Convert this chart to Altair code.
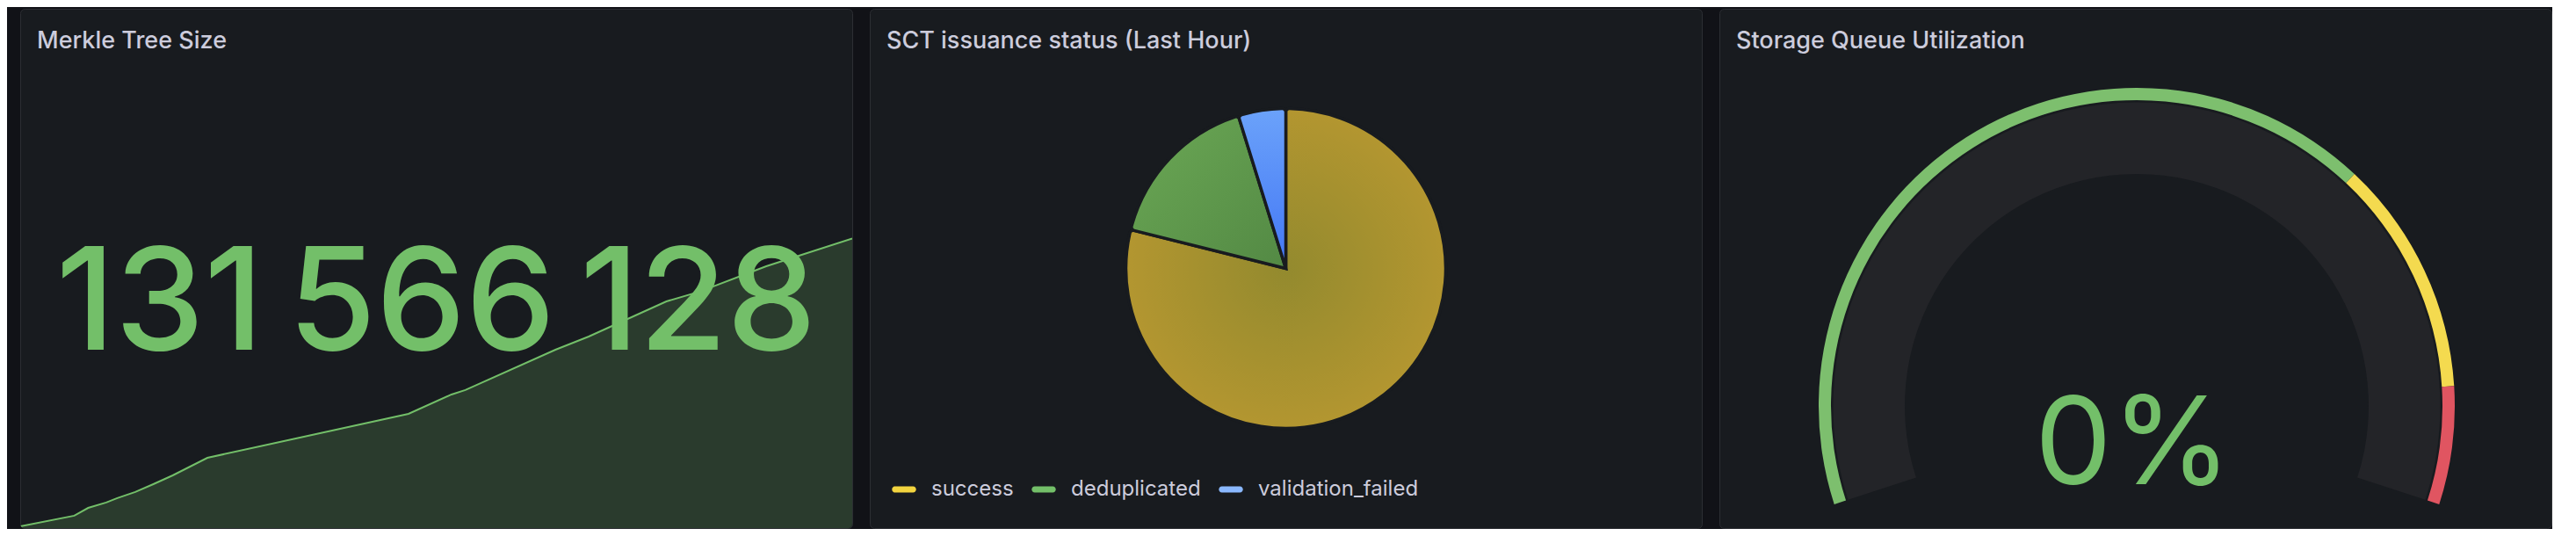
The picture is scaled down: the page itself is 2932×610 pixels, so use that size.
import math
import altair as alt
import pandas as pd

# ---------------- data ----------------
panel_titles = ["Merkle Tree Size", "SCT issuance status (Last Hour)", "Storage Queue Utilization"]

# Merkle tree size sparkline (minutes into the hour, size in millions)
spark_minutes = [0, 3.9, 4.9, 6.2, 7.0, 8.3, 9.6, 11.0, 13.5, 28.0, 31.1, 32.1, 38.6, 41.0, 46.6, 49.0, 53.8, 60]
spark_size_millions = [117.09, 117.62, 118.01, 118.28, 118.50, 118.81, 119.20, 119.64, 120.52, 122.72,
                       123.69, 123.91, 125.93, 126.59, 128.35, 128.84, 130.11, 131.50]
tree_size = 131566128

# SCT issuance status
sct_status = ["success", "deduplicated", "validation_failed"]
sct_count = [789, 163, 48]
sct_colors = ["#f2d43f", "#73bf69", "#8ab8ff"]

# Storage queue gauge
queue_utilization_pct = [0]
threshold_start = [0, 70, 90]
threshold_end = [70, 90, 100]
threshold_colors = ["#7dbf6e", "#f4da4f", "#e05561"]

# ---------------- style ----------------
W, H = 947, 591
PANEL_BG = "#181b1f"
TEXT = "#ccccdc"
GREEN = "#73bf69"
FONT = "Inter"


def title_layer(text):
    return alt.Chart(pd.DataFrame({"t": [text]})).mark_text(
        font=FONT, fontSize=27, fontWeight=500, color=TEXT, align="left", baseline="alphabetic"
    ).encode(text="t:N", x=alt.value(19), y=alt.value(45))


# ---------------- panel 1: stat ----------------
spark_df = pd.DataFrame({"t": spark_minutes, "v": spark_size_millions})
xs = alt.X("t:Q", scale=alt.Scale(domain=[0, 60], nice=False, zero=False), axis=None)
ys = alt.Y("v:Q", scale=alt.Scale(domain=[117, 143], nice=False, zero=False), axis=None)

spark_area = alt.Chart(spark_df).mark_area(color=GREEN, fillOpacity=0.2, clip=True).encode(
    x=xs, y=ys, y2=alt.datum(117)
)
spark_line = alt.Chart(spark_df).mark_line(color=GREEN, strokeWidth=2, clip=True).encode(x=xs, y=ys)

stat_df = pd.DataFrame({"label": [f"{tree_size:,}".replace(",", "\u2009")]})
stat_text = alt.Chart(stat_df).mark_text(
    font=FONT, fontSize=162, fontWeight=500, color=GREEN, align="center", baseline="alphabetic"
).encode(text="label:N", x=alt.value(W / 2), y=alt.value(388))

stat_panel = alt.layer(spark_area, spark_line, stat_text, title_layer(panel_titles[0])).properties(
    width=W, height=H
)

# ---------------- panel 2: pie ----------------
pie_df = pd.DataFrame({"status": sct_status, "count": sct_count, "order": [0, 1, 2]})
pie_base = (
    alt.Chart(pie_df)
    .transform_joinaggregate(total="sum(count)")
    .transform_window(cum="sum(count)", sort=[alt.SortField("order")], frame=[None, 0])
    .transform_calculate(t0="(datum.cum - datum.count) / datum.total", t1="datum.cum / datum.total")
)
theta = alt.Theta("t0:Q", scale=alt.Scale(domain=[0, 1], range=[0, 2 * math.pi]))
theta2 = alt.Theta2("t1:Q")
arc_style = dict(outerRadius=182, stroke=PANEL_BG, strokeWidth=3.5, cornerRadius=4)

pill = ("M-0.745,-0.2545 L0.745,-0.2545 A0.2545,0.2545 0 0 1 0.745,0.2545 "
        "L-0.745,0.2545 A0.2545,0.2545 0 0 1 -0.745,-0.2545 Z")

pie_main = pie_base.mark_arc(**arc_style).encode(
    theta=theta,
    theta2=theta2,
    color=alt.Color(
        "status:N",
        scale=alt.Scale(domain=sct_status, range=sct_colors),
        legend=alt.Legend(
            title=None, orient="none", legendX=25, legendY=533, direction="horizontal",
            symbolType=pill, symbolSize=756, symbolStrokeWidth=0, symbolOpacity=1,
            labelFont=FONT, labelFontSize=24, labelColor=TEXT, labelOffset=17,
            columnPadding=20, labelLimit=400,
        ),
    ),
)

grad_success = alt.RadialGradient(
    gradient="radial",
    stops=[alt.GradientStop(color="#938a2e", offset=0), alt.GradientStop(color="#b39630", offset=1)],
    x1=0.5, y1=0.5, r1=0, x2=0.5, y2=0.5, r2=0.5,
)
grad_dedup = alt.LinearGradient(
    gradient="linear",
    stops=[alt.GradientStop(color="#6ba855", offset=0), alt.GradientStop(color="#538944", offset=1)],
    x1=0, y1=0, x2=1, y2=1,
)
grad_failed = alt.LinearGradient(
    gradient="linear",
    stops=[alt.GradientStop(color="#6ba2fa", offset=0), alt.GradientStop(color="#4377f5", offset=1)],
    x1=0.5, y1=0, x2=0.5, y2=1,
)

overlays = []
for name, grad in zip(sct_status, [grad_success, grad_dedup, grad_failed]):
    overlays.append(
        pie_base.transform_filter(alt.datum.status == name)
        .mark_arc(fill=grad, **arc_style)
        .encode(theta=theta, theta2=theta2)
    )

pie_panel = alt.layer(pie_main, *overlays, title_layer(panel_titles[1])).properties(width=W, height=H)

# ---------------- panel 3: gauge ----------------
GX, GY = 475, 452
gscale = alt.Scale(domain=[0, 100], range=[-1.885, 1.885])

thr_df = pd.DataFrame({"start": threshold_start, "end": threshold_end, "color": threshold_colors})
thr_band = alt.Chart(thr_df).mark_arc(outerRadius=362, innerRadius=348, x=GX, y=GY).encode(
    theta=alt.Theta("start:Q", scale=gscale), theta2="end:Q", color=alt.Color("color:N", scale=None)
)

g_df = pd.DataFrame({"value": queue_utilization_pct, "lo": [0], "hi": [100]})
track = alt.Chart(g_df).mark_arc(outerRadius=345.5, innerRadius=264, color="#232428", x=GX, y=GY).encode(
    theta=alt.Theta("value:Q", scale=gscale), theta2="hi:Q"
)
fill = alt.Chart(g_df).mark_arc(outerRadius=345.5, innerRadius=264, color=GREEN, x=GX, y=GY).encode(
    theta=alt.Theta("lo:Q", scale=gscale), theta2="value:Q"
)
g_text = alt.Chart(g_df).transform_calculate(frac="datum.value / 100").mark_text(
    font=FONT, fontSize=139, fontWeight=400, color=GREEN, align="center", baseline="alphabetic"
).encode(text=alt.Text("frac:Q", format=".0%"), x=alt.value(471), y=alt.value(541))

gauge_panel = alt.layer(thr_band, track, fill, g_text, title_layer(panel_titles[2])).properties(
    width=W, height=H
)

# ---------------- assemble ----------------
chart = (
    alt.hconcat(stat_panel, pie_panel, gauge_panel, spacing=18)
    .resolve_scale(theta="independent", color="independent", x="independent", y="independent")
    .properties(
        padding={"left": 14, "top": 1, "right": 0, "bottom": 0},
        background="#111217",
        usermeta={"embedOptions": {"defaultStyle": "body{background:#111217;}"}},
    )
    .configure_view(fill=PANEL_BG, stroke="#2c2e33", strokeWidth=1, cornerRadius=5)
)

chart.save("out.html", embed_options={"renderer": "svg", "actions": False})
